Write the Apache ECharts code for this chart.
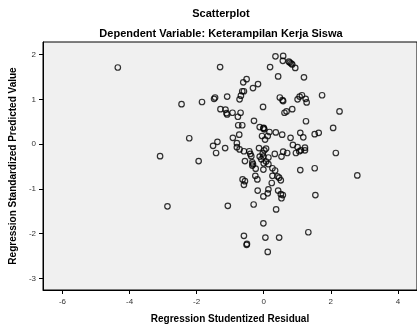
<!DOCTYPE html>
<html>
<head>
<meta charset="utf-8">
<script src="https://cdn.jsdelivr.net/npm/echarts@6/dist/echarts.min.js"></script>
<style>
  html, body { margin: 0; padding: 0; background: #fff; }
  #chart { width: 417px; height: 329px; }
</style>
</head>
<body>
<div id="chart"></div>
<script>
// tick labels
const xTicks = [-6, -4, -2, 0, 2, 4]
const yTicks = [-3, -2, -1, 0, 1, 2]

// studentized residual (x) and standardized predicted value (y)
const residual = [
  -4.35, -3.09, -2.87, -1.30, -2.45, -1.84, -1.45, -1.48, -1.09, -0.72,
  -0.68, -0.64, -0.59, -0.61, -0.51, -0.32, -0.17, -0.02, -1.29, -1.14,
  -1.11, -1.09, -0.93, -0.77, -0.69, -0.76, -0.64, -0.29, -0.12, -0.01,
  -0.73, -0.92, -2.22, -1.38, -1.51, -1.42, -1.15, -0.80, -0.80, -0.72,
  -0.59, -0.43, -0.40, -0.37, -0.14, -0.05, -1.94, -0.56, -0.34, -0.32,
  -0.12, -0.07, -0.01, 0.02, 0.35, 0.58, 0.57, 0.19, 0.75, 0.78,
  0.82, 0.85, 0.94, 0.43, 1.20, 0.48, 0.56, 0.58, 1.01, 1.07,
  1.14, 1.25, 1.28, 1.74, 0.62, 0.68, 0.85, 2.26, 1.26, 0.00,
  0.02, 0.17, 0.36, 0.55, 0.80, 0.12, 0.04, 1.09, 1.18, 1.52,
  1.64, 2.07, 0.87, 1.01, 1.11, 1.23, 1.23, 0.96, 1.06, 0.58,
  0.70, 0.33, 0.53, 0.07, -0.03, 0.14, 0.07, 2.15, 1.52, -0.34,
  -0.24, -0.01, -0.63, -0.56, -0.59, -0.25, -0.19, -0.18, -0.01, -1.07,
  -0.30, -0.01, -0.59, -0.51, -0.50, 0.05, 0.12, 0.00, 0.14, 0.26,
  0.34, 0.26, 0.41, 0.46, 0.51, 0.24, 0.14, 0.12, 0.43, 0.51,
  0.57, 0.53, 1.09, 2.79, 1.54, 0.37, 1.33, 0.46
]
const predicted = [
  1.71, -0.27, -1.39, 1.72, 0.89, 0.94, 1.04, 1.01, 1.06, 1.00,
  1.08, 1.18, 1.18, 1.38, 1.45, 1.25, 1.34, 0.83, 0.78, 0.77,
  0.69, 0.66, 0.70, 0.61, 0.70, 0.42, 0.42, 0.52, 0.38, 0.35,
  0.21, 0.14, 0.13, 0.05, -0.04, -0.20, -0.09, 0.02, -0.07, -0.12,
  -0.16, -0.16, -0.22, -0.27, -0.09, 0.18, -0.38, -0.38, -0.41, -0.45,
  -0.28, -0.34, -0.28, -0.14, 1.96, 1.97, 1.86, 1.72, 1.84, 1.82,
  1.80, 1.78, 1.70, 1.51, 1.49, 1.04, 0.98, 0.96, 1.00, 1.06,
  1.09, 1.01, 0.93, 1.09, 0.70, 0.73, 0.78, 0.73, 0.51, 0.36,
  0.33, 0.27, 0.26, 0.21, 0.14, 0.18, 0.10, 0.25, 0.15, 0.22,
  0.25, 0.36, -0.02, -0.07, -0.14, -0.08, -0.14, -0.20, -0.16, -0.17,
  -0.20, -0.22, -0.28, -0.10, -0.21, -0.30, -0.39, -0.20, -0.54, -0.48,
  -0.55, -0.57, -0.79, -0.83, -0.91, -0.71, -0.79, -1.04, -1.17, -1.38,
  -1.35, -1.77, -2.05, -2.25, -2.23, -2.09, -2.41, -0.43, -0.45, -0.54,
  -0.59, -0.71, -0.72, -0.75, -0.81, -0.87, -1.01, -1.10, -1.04, -1.12,
  -1.14, -1.21, -0.58, -0.70, -1.14, -1.46, -1.97, -2.09
]

const points = residual.map((x, i) => [x, predicted[i]])

const chart = echarts.init(document.getElementById('chart'))
const font = "'Liberation Sans', Arial, sans-serif"

const option = {
  animation: false,
  backgroundColor: '#fff',
  title: [
    {
      text: 'Scatterplot',
      left: 216,
      top: 3,
      textAlign: 'center',
      textStyle: { fontFamily: font, fontSize: 11, fontWeight: 'bold', color: '#000' }
    },
    {
      text: 'Dependent Variable: Keterampilan Kerja Siswa',
      left: 216,
      top: 23,
      textAlign: 'center',
      textStyle: { fontFamily: font, fontSize: 11, fontWeight: 'bold', color: '#000' }
    }
  ],
  grid: {
    left: 41,
    top: 42,
    right: -8,
    bottom: 32,
    show: true,
    backgroundColor: '#f0f0f0',
    borderColor: '#000',
    borderWidth: 1
  },
  xAxis: {
    type: 'value',
    min: -6.58,
    max: 4.57,
    name: 'Regression Studentized Residual',
    nameLocation: 'middle',
    nameGap: 24,
    nameTextStyle: { fontFamily: font, fontSize: 10, fontWeight: 'bold', color: '#000' },
    axisLine: { show: true, onZero: false, lineStyle: { color: '#000', width: 1 } },
    axisTick: { show: true, length: 4, customValues: xTicks, lineStyle: { color: '#000' } },
    axisLabel: { customValues: xTicks, margin: 8, fontFamily: font, fontSize: 8, color: '#333' },
    splitLine: { show: false }
  },
  yAxis: {
    type: 'value',
    min: -3.26,
    max: 2.28,
    name: 'Regression Standardized Predicted Value',
    nameLocation: 'middle',
    nameGap: 21,
    nameTextStyle: { fontFamily: font, fontSize: 10, fontWeight: 'bold', color: '#000' },
    axisLine: { show: true, onZero: false, lineStyle: { color: '#000', width: 1 } },
    axisTick: { show: true, length: 4, customValues: yTicks, lineStyle: { color: '#000' } },
    axisLabel: { customValues: yTicks, margin: 7, fontFamily: font, fontSize: 8, color: '#333' },
    splitLine: { show: false }
  },
  series: [
    {
      type: 'scatter',
      symbol: 'circle',
      symbolSize: 5.5,
      itemStyle: { color: 'rgba(0,0,0,0)', borderColor: '#000', borderWidth: 1.2 },
      data: points
    }
  ]
}
chart.setOption(option)
</script>
</body>
</html>
